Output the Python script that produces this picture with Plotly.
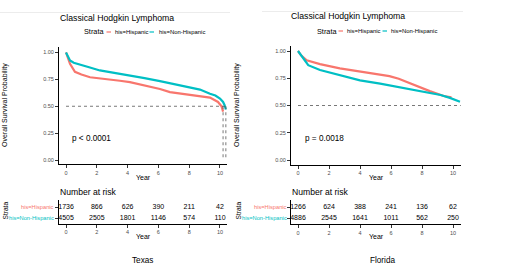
import plotly.graph_objects as go

W, H = 520, 271
PINK = "#F8766D"
TEAL = "#00BFC4"
FONT = "Liberation Sans"

# ---------------- data ----------------
tx_his_t = [0, 0.1, 0.26, 0.58, 1.0, 1.56, 2.2, 2.86, 3.5, 4.15, 4.8, 5.45, 6.1, 6.75, 7.4, 8.05, 8.7, 9.35, 9.87, 10.1, 10.2]
tx_his_s = [1.0, 0.96, 0.895, 0.82, 0.795, 0.77, 0.757, 0.747, 0.737, 0.725, 0.705, 0.68, 0.66, 0.632, 0.62, 0.611, 0.598, 0.58, 0.54, 0.5, 0.45]
tx_non_t = [0, 0.26, 0.5, 0.9, 1.5, 2.2, 3.2, 4.15, 5.1, 6.1, 7.1, 8.05, 8.7, 9.35, 9.7, 10.0, 10.2, 10.3, 10.38]
tx_non_s = [1.0, 0.926, 0.905, 0.89, 0.862, 0.833, 0.81, 0.787, 0.762, 0.734, 0.705, 0.673, 0.655, 0.617, 0.6, 0.571, 0.54, 0.51, 0.47]
tx_medians = [10.2, 10.38]

fl_his_t = [0, 0.2, 0.56, 1.42, 2.7, 4.0, 4.65, 5.9, 6.5, 7.0, 7.87, 8.5, 9.4, 9.9]
fl_his_s = [1.0, 0.96, 0.915, 0.88, 0.84, 0.81, 0.80, 0.77, 0.745, 0.716, 0.663, 0.632, 0.587, 0.575]
fl_non_t = [0, 0.34, 0.66, 1.42, 2.7, 4.0, 5.3, 6.6, 7.9, 9.2, 9.8, 10.45]
fl_non_s = [1.0, 0.93, 0.87, 0.826, 0.78, 0.73, 0.70, 0.667, 0.635, 0.596, 0.57, 0.535]
fl_hline_end = 10.5

risk_years = [0, 2, 4, 6, 8, 10]
tx_risk_his = [1736, 866, 626, 390, 211, 42]
tx_risk_non = [4505, 2505, 1801, 1146, 574, 110]
fl_risk_his = [1266, 624, 388, 241, 136, 62]
fl_risk_non = [4886, 2545, 1641, 1011, 562, 250]

strata_labels = ["his=Hispanic", "his=Non-Hispanic"]
y_ticks = [0, 0.25, 0.5, 0.75, 1.0]
y_ticktext = ["0.00", "0.25", "0.50", "0.75", "1.00"]
p_texts = ["p < 0.0001", "p = 0.0018"]
panel_names = ["Texas", "Florida"]
title_text = "Classical Hodgkin Lymphoma"


def px(x):
    return x / W


def py(y):
    return 1 - y / H


fig = go.Figure()

# KM curves
def curve(t, s, color, xa, ya):
    fig.add_trace(go.Scatter(x=t, y=s, mode="lines", line=dict(color=color, width=2.2),
                             xaxis=xa, yaxis=ya, showlegend=False, hoverinfo="skip"))

curve(tx_his_t, tx_his_s, PINK, "x", "y")
curve(tx_non_t, tx_non_s, TEAL, "x", "y")
curve(fl_his_t, fl_his_s, PINK, "x2", "y2")
curve(fl_non_t, fl_non_s, TEAL, "x2", "y2")

DOT = dict(color="#555555", width=0.8, dash="dot")
# median lines Texas
fig.add_trace(go.Scatter(x=[0, max(tx_medians)], y=[0.5, 0.5], mode="lines", line=DOT,
                         xaxis="x", yaxis="y", showlegend=False, hoverinfo="skip"))
for m in tx_medians:
    fig.add_trace(go.Scatter(x=[m, m], y=[0.5, 0], mode="lines", line=DOT,
                             xaxis="x", yaxis="y", showlegend=False, hoverinfo="skip"))
fig.add_trace(go.Scatter(x=[0, fl_hline_end], y=[0.5, 0.5], mode="lines", line=DOT,
                         xaxis="x2", yaxis="y2", showlegend=False, hoverinfo="skip"))

# risk tables
def risk(vals, row, xa, ya):
    fig.add_trace(go.Scatter(x=risk_years, y=[row] * len(vals), mode="text",
                             text=[str(v) for v in vals],
                             textfont=dict(family=FONT, size=7, color="black"),
                             textposition="middle center",
                             xaxis=xa, yaxis=ya, showlegend=False, hoverinfo="skip"))

risk(tx_risk_his, 1, "x3", "y3")
risk(tx_risk_non, 0, "x3", "y3")
risk(fl_risk_his, 1, "x4", "y4")
risk(fl_risk_non, 0, "x4", "y4")

axis_common = dict(showline=True, linecolor="black", linewidth=1, ticks="outside",
                   ticklen=3, tickcolor="#333333", tickwidth=0.8, showgrid=False,
                   zeroline=False, tickfont=dict(family=FONT, size=5.5, color="#4d4d4d"),
                   fixedrange=True)

xt = dict(tickvals=risk_years, ticktext=[str(v) for v in risk_years])

fig.update_layout(
    width=W, height=H, margin=dict(l=0, r=0, t=0, b=0),
    paper_bgcolor="white", plot_bgcolor="white",
    xaxis=dict(domain=[px(59), px(227)], range=[-0.455, 10.455], anchor="y", **xt, **axis_common),
    yaxis=dict(domain=[py(164), py(47)], range=[-0.037, 1.051], anchor="x",
               tickvals=y_ticks, ticktext=y_ticktext, **axis_common),
    xaxis2=dict(domain=[px(291), px(461)], range=[-0.4516, 10.516], anchor="y2", **xt, **axis_common),
    yaxis2=dict(domain=[py(164.5), py(46)], range=[-0.0413, 1.0459], anchor="x2",
                tickvals=y_ticks, ticktext=y_ticktext, **axis_common),
    xaxis3=dict(domain=[px(59), px(227)], range=[-0.455, 10.455], anchor="y3", **xt, **axis_common),
    yaxis3=dict(domain=[py(223.5), py(200)], range=[-0.5, 1.636], anchor="x3",
                tickvals=[0, 1], ticktext=["", ""], **axis_common),
    xaxis4=dict(domain=[px(291), px(461)], range=[-0.4516, 10.516], anchor="y4", **xt, **axis_common),
    yaxis4=dict(domain=[py(224), py(200)], range=[-0.545, 1.636], anchor="x4",
                tickvals=[0, 1], ticktext=["", ""], **axis_common),
)

ann = []

def text(x, y, s, size, color="black", xanchor="left", angle=0, ref=("paper", "paper")):
    ann.append(dict(x=x, y=y, xref=ref[0], yref=ref[1], text=s, showarrow=False,
                    xanchor=xanchor, yanchor="middle", textangle=angle,
                    font=dict(family=FONT, size=size, color=color)))

# titles
text(px(58), py(18), title_text, 8.7)
text(px(289), py(16), title_text, 8.7)

# legends
def legend(x0, y0, dash_pos):
    text(px(x0), py(y0), "Strata", 7.3)
    d1, t1, d2, t2 = dash_pos
    text(px(t1), py(y0), strata_labels[0], 5.9)
    text(px(t2), py(y0), strata_labels[1], 5.9)
    return [(d1, PINK), (d2, TEAL)]

shapes = []
for x0, y0, dp in [(82, 32, (106.5, 113, 149.5, 157)), (315, 31, (338.5, 345, 382.5, 389))]:
    for d, c in legend(x0, y0, dp):
        shapes.append(dict(type="line", xref="paper", yref="paper", x0=px(d), x1=px(d + 4.5),
                           y0=py(y0), y1=py(y0), line=dict(color=c, width=1.2)))

# p-values
text(px(70), py(138), p_texts[0], 8.2)
text(px(303), py(138), p_texts[1], 8.2)

# y titles
text(px(5), py(105), "Overall Survival Probability", 7, angle=-90, xanchor="center")
text(px(237), py(105), "Overall Survival Probability", 7, angle=-90, xanchor="center")

# x titles
text(px(143), py(177.5), "Year", 7, xanchor="center")
text(px(376), py(177.5), "Year", 7, xanchor="center")
text(px(143), py(236.5), "Year", 7, xanchor="center")
text(px(376), py(236.5), "Year", 7, xanchor="center")

# Number at risk
text(px(58), py(192), "Number at risk", 8.6)
text(px(290), py(192), "Number at risk", 8.6)

# table strata labels
for xr, xs in [(56, 4.5), (288.5, 237.5)]:
    ann.append(dict(x=px(xr), y=py(207), xref="paper", yref="paper", text=strata_labels[0],
                    showarrow=False, xanchor="right", yanchor="middle",
                    font=dict(family=FONT, size=5.7, color=PINK)))
    ann.append(dict(x=px(xr), y=py(218), xref="paper", yref="paper", text=strata_labels[1],
                    showarrow=False, xanchor="right", yanchor="middle",
                    font=dict(family=FONT, size=5.7, color=TEAL)))
    text(px(xs), py(211), "Strata", 6.6, angle=-90, xanchor="center")

# panel captions
text(px(142), py(260), panel_names[0], 8.2, xanchor="center")
text(px(382), py(260), panel_names[1], 8.2, xanchor="center")

# faint image borders
shapes.append(dict(type="line", xref="paper", yref="paper", x0=0, x1=px(230), y0=py(12.5), y1=py(12.5),
                   line=dict(color="#ececec", width=1)))
shapes.append(dict(type="line", xref="paper", yref="paper", x0=px(262), x1=px(463), y0=py(11.5), y1=py(11.5),
                   line=dict(color="#ececec", width=1)))

fig.update_layout(annotations=ann, shapes=shapes)
fig.write_html("out.html", config={"displayModeBar": False},
               post_script="document.body.style.margin='0px';document.body.style.overflow='hidden';")
